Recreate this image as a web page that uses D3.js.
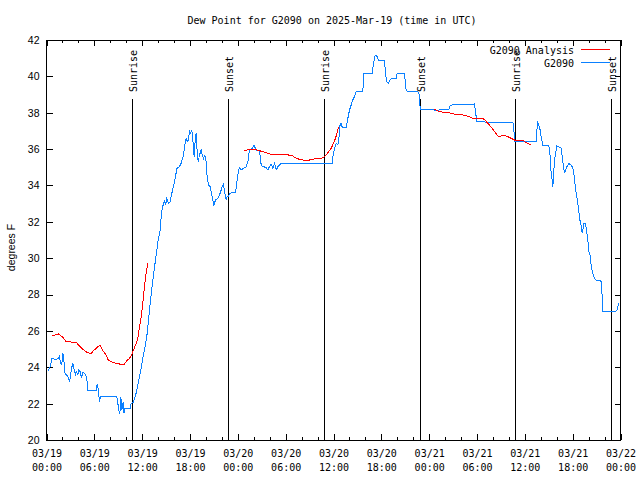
<!DOCTYPE html>
<html><head><meta charset="utf-8">
<script src="https://cdn.jsdelivr.net/npm/d3@7"></script>
<style>
html,body{margin:0;padding:0;background:#fff;}
svg{display:block;}
.mono{font-family:"DejaVu Sans Mono",monospace;font-size:10px;fill:#000;}
.sans{font-family:"Liberation Sans",Arial,sans-serif;font-size:10.5px;fill:#000;}
</style>
</head><body>
<script>
// ---- data (hours after 2025-03-19 00:00 UTC, degrees F) ----
const titleText = "Dew Point for G2090 on 2025-Mar-19 (time in UTC)";
const yLabel = "degrees F";
const seriesNames = ["G2090 Analysis", "G2090"];
const seriesColors = ["#ff0000", "#0a80ff"];
const yTicks = [20,22,24,26,28,30,32,34,36,38,40,42];

const g2090Hours = [0.17,0.50,0.67,1.21,1.46,1.63,1.76,1.92,2.05,2.17,2.34,2.55,2.72,2.89,3.01,3.14,3.30,3.47,3.64,3.72,3.93,4.06,4.22,4.39,4.56,4.81,4.98,5.10,5.18,6.23,6.36,6.48,6.65,6.77,8.82,8.95,9.07,9.20,9.32,9.45,9.62,9.70,9.83,10.0,10.5,10.62,10.87,11.12,11.29,11.54,11.67,11.88,12.08,12.33,12.58,
12.92,13.34,13.67,13.84,14.01,14.26,14.43,14.68,14.80,14.93,15.09,15.30,15.51,15.72,15.97,16.18,16.35,16.68,16.89,17.18,17.39,17.52,17.64,17.81,17.94,18.06,18.23,18.36,18.52,18.65,18.77,18.90,19.03,19.19,19.40,19.53,19.69,19.86,20.03,20.15,20.32,20.53,20.70,20.86,20.99,21.20,21.49,21.78,22.04,22.20,22.37,22.54,22.66,22.83,23.04,23.29,23.71,23.88,24.09,24.21,24.42,24.71,25.05,25.26,25.38,
25.46,25.80,26.01,26.30,26.72,26.93,27.13,27.55,27.76,27.97,28.18,28.39,28.60,28.81,29.02,29.23,29.43,35.83,35.92,36.12,36.33,36.54,36.67,36.75,36.96,37.09,37.59,37.80,38.01,38.21,38.42,38.63,38.84,39.68,39.80,40.85,41.02,41.23,41.43,41.64,42.40,42.52,42.69,42.90,43.11,43.44,43.86,43.99,44.90,45.11,45.28,46.58,46.79,
46.87,48.46,48.67,49.30,50.47,50.64,53.69,53.81,53.98,56.82,58.50,58.62,58.75,61.42,61.51,61.63,61.76,61.92,62.05,62.26,63.01,63.18,63.30,63.43,63.51,63.60,63.72,63.85,64.02,64.27,64.56,64.69,64.85,64.98,65.10,65.27,65.52,65.77,65.94,66.11,66.23,66.44,66.65,66.78,66.94,67.11,67.19,67.28,67.40,67.57,67.70,67.90,68.03,68.24,68.32,68.53,68.74,68.95,69.49,
69.57,69.66,69.74,69.78,71.46,71.58,71.71,71.79];
const g2090Values = [23.76,24.07,24.49,24.43,24.49,24.62,24.21,24.16,24.80,24.43,23.61,23.57,23.43,23.21,23.52,23.94,24.22,23.85,23.61,23.76,23.61,23.88,23.76,23.43,23.70,23.67,23.48,23.21,22.71,22.71,23.08,22.84,22.11,22.38,22.38,22.01,21.65,21.41,22.38,21.65,22.11,21.46,21.72,21.76,21.76,22.01,22.07,22.38,22.66,23.21,23.48,23.94,24.49,25.04,25.68,
27.15,28.80,29.90,30.45,31.0,31.55,32.56,33.02,33.20,32.92,33.29,33.02,33.11,33.57,34.02,34.48,34.94,35.03,35.22,35.67,36.31,36.59,36.41,36.50,37.05,36.87,37.05,36.50,35.58,36.50,36.87,35.86,35.31,35.67,35.95,35.67,35.49,35.67,35.31,34.48,34.02,33.93,33.57,33.20,32.92,33.20,33.29,33.57,33.93,34.08,33.57,33.20,33.38,33.42,33.57,33.60,33.60,34.21,34.85,34.98,34.85,34.94,35.03,35.31,35.73,
35.95,36.04,36.22,35.95,35.91,35.12,35.03,35.0,34.85,35.03,35.18,34.94,35.22,34.85,35.03,35.12,35.22,35.22,35.58,36.04,36.32,36.22,36.41,37.23,37.42,37.20,37.20,37.69,38.15,38.42,38.70,38.88,39.16,39.16,40.17,40.17,40.72,41.17,41.12,40.90,40.90,40.17,39.71,39.62,39.84,39.89,39.89,40.17,40.17,39.25,39.16,39.16,38.97,
38.19,38.19,38.13,38.15,38.19,38.42,38.48,38.06,37.51,37.45,37.47,37.05,36.44,36.44,37.05,37.45,37.32,37.05,36.68,36.22,36.22,35.58,34.67,34.30,33.93,34.48,35.40,35.77,36.17,36.13,36.04,35.58,35.03,34.67,34.85,35.03,35.22,35.12,35.03,34.85,34.30,33.57,33.02,32.56,32.01,31.73,31.37,31.55,31.92,31.92,31.64,31.0,30.36,30.08,29.53,29.17,28.89,28.80,28.76,
28.71,28.25,27.46,27.09,27.09,27.15,27.42,27.52];

// analysis: null marks a gap between runs
const analysisHours = [0.67,1.0,1.51,1.71,2.05,2.47,3.72,4.14,4.77,5.18,5.60,5.89,6.44,6.73,7.07,7.48,7.69,8.11,8.66,9.16,9.78,10.08,10.41,10.66,10.91,11.25,11.46,11.58,11.88,12.08,12.29,12.42,12.59,12.71,
null,
24.75,25.46,26.09,26.72,27.13,27.55,27.97,28.39,30.06,30.48,30.90,31.32,31.73,32.15,32.99,33.41,34.24,34.74,35.08,35.41,35.71,36.00,36.25,36.54,36.67,
null,
48.67,49.09,49.30,50.13,50.97,51.18,52.02,52.22,52.64,53.06,53.48,54.73,55.07,55.36,55.78,56.20,56.61,57.03,57.45,57.87,58.29,58.71,59.75,59.96,60.38,60.80];
const analysisValues = [25.72,25.77,25.83,25.77,25.64,25.41,25.37,25.17,24.91,24.80,24.76,24.91,25.13,25.19,24.91,24.67,24.43,24.31,24.22,24.18,24.18,24.36,24.49,24.67,24.95,25.31,25.59,25.96,26.78,27.51,28.43,28.98,29.44,29.72,
null,
35.91,35.99,35.99,35.91,35.86,35.80,35.73,35.71,35.71,35.66,35.62,35.49,35.44,35.40,35.40,35.45,35.47,35.53,35.67,35.86,36.04,36.32,36.59,37.05,37.23,
null,
38.19,38.11,38.06,38.00,37.97,37.91,37.91,37.87,37.84,37.78,37.69,37.69,37.56,37.42,37.20,36.96,36.72,36.72,36.77,36.68,36.59,36.50,36.50,36.41,36.32,36.21];

const sunHours = [10.78, 22.82, 34.86, 46.90, 58.82, 70.86];
const sunLabels = ["Sunrise","Sunset","Sunrise","Sunset","Sunrise","Sunset"];

// ---- chart ----
const W = 640, H = 480;
const t0 = Date.UTC(2025,2,19,0,0);
const toDate = h => new Date(t0 + h*3600000);

const svg = d3.select("body").append("svg").attr("width",W).attr("height",H);
svg.append("rect").attr("width",W).attr("height",H).attr("fill","#fff");

const x = d3.scaleUtc().domain([toDate(0), toDate(72)]).range([46.5, 620.5]);
const y = d3.scaleLinear().domain([20,42]).range([440,40]);

const crisp = "crispEdges";

// title
svg.append("text").attr("class","mono").attr("x",332).attr("y",24)
  .attr("text-anchor","middle").text(titleText);

// y label
svg.append("text").attr("class","sans").attr("transform","translate(15,247.5) rotate(-90)")
  .attr("text-anchor","middle").text(yLabel);

// axes
function styleAxis(g){ g.select(".domain").remove(); g.selectAll("line").attr("stroke","#000").attr("shape-rendering",crisp); }

const fmtD = d3.utcFormat("%m/%d"), fmtT = d3.utcFormat("%H:%M");
const gx = svg.append("g").attr("transform","translate(0,440)")
  .call(d3.axisBottom(x).ticks(d3.utcHour.every(6)).tickSizeInner(-6).tickSizeOuter(0).tickPadding(0).tickFormat(""))
  .call(styleAxis);
gx.selectAll(".tick text").remove();
gx.selectAll(".tick").append("text").attr("class","mono").attr("text-anchor","middle")
  .each(function(d){
    const t = d3.select(this);
    t.append("tspan").attr("x",0).attr("y",17).text(fmtD(d));
    t.append("tspan").attr("x",0).attr("y",31).text(fmtT(d));
  });
svg.append("g").attr("transform","translate(0,440)")
  .call(d3.axisBottom(x).ticks(d3.utcHour.every(2)).tickSizeInner(-3).tickSizeOuter(0).tickFormat(""))
  .call(styleAxis);
svg.append("g").attr("transform","translate(0,40)")
  .call(d3.axisTop(x).ticks(d3.utcHour.every(6)).tickSizeInner(-6).tickSizeOuter(0).tickFormat(""))
  .call(styleAxis);
svg.append("g").attr("transform","translate(0,40)")
  .call(d3.axisTop(x).ticks(d3.utcHour.every(2)).tickSizeInner(-3).tickSizeOuter(0).tickFormat(""))
  .call(styleAxis);

const gy = svg.append("g").attr("transform","translate(46.5,0)")
  .call(d3.axisLeft(y).tickValues(yTicks).tickSizeInner(-6).tickSizeOuter(0).tickPadding(7).tickFormat(d3.format("d")))
  .call(styleAxis);
gy.selectAll("text").attr("class","sans").attr("font-family",null).attr("font-size",null);
svg.append("g").attr("transform","translate(620.5,0)")
  .call(d3.axisRight(y).tickValues(yTicks).tickSizeInner(-6).tickSizeOuter(0).tickFormat(""))
  .call(styleAxis);

// frame
svg.append("rect").attr("x",46.5).attr("y",40.5).attr("width",574).attr("height",400)
  .attr("fill","none").attr("stroke","#000").attr("shape-rendering",crisp);

// sunrise / sunset
const sun = svg.append("g");
sunHours.forEach((h,i)=>{
  const sx = Math.round(x(toDate(h))) + 0.5;
  sun.append("line").attr("x1",sx).attr("x2",sx).attr("y1",99).attr("y2",y(20))
    .attr("stroke","#000").attr("shape-rendering",crisp);
  sun.append("text").attr("class","mono").attr("transform",`translate(${sx+4.5},92) rotate(-90)`)
    .attr("text-anchor","start").text(sunLabels[i]);
});

// series
const line = d3.line().defined(d=>d[0]!==null && d[1]!==null)
  .x(d=>x(toDate(d[0]))).y(d=>y(d[1]));
const blue = g2090Hours.map((h,i)=>[h,g2090Values[i]]);
const red = analysisHours.map((h,i)=>[h,analysisValues[i]]);
svg.append("path").datum(blue).attr("d",line).attr("fill","none")
  .attr("stroke",seriesColors[1]).attr("stroke-width",1).attr("shape-rendering",crisp);
svg.append("path").datum(red).attr("d",line).attr("fill","none")
  .attr("stroke",seriesColors[0]).attr("stroke-width",1).attr("shape-rendering",crisp);

// legend
const lg = svg.append("g");
seriesNames.forEach((n,i)=>{
  const yy = 53.5 + i*13;
  lg.append("text").attr("class","mono").attr("x",574).attr("y",yy).attr("text-anchor","end").text(n);
  lg.append("line").attr("x1",581).attr("x2",610).attr("y1",yy-4).attr("y2",yy-4)
    .attr("stroke",seriesColors[i]).attr("shape-rendering",crisp);
});
</script>
</body></html>
